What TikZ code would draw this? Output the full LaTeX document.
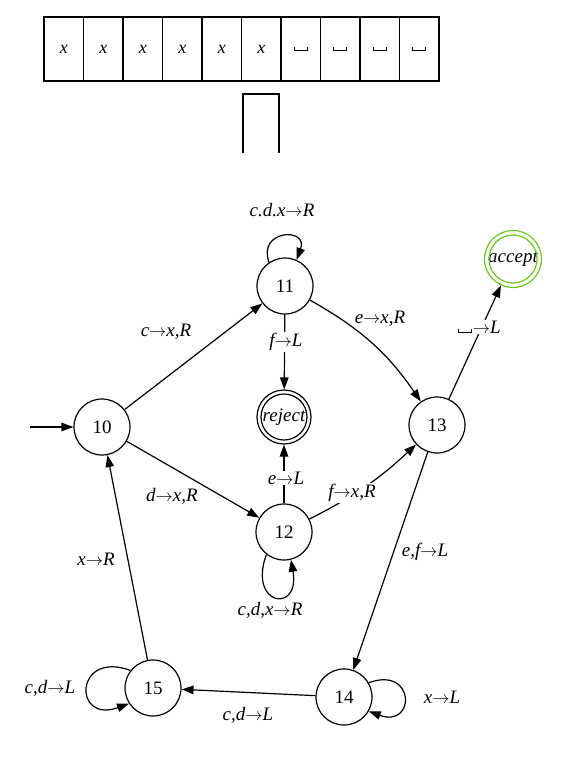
\documentclass[tikz,border=0pt]{standalone}
\usepackage{fontspec}
\setmainfont{Liberation Serif}
\usetikzlibrary{arrows.meta}
\newcommand{\blanksym}{\kern1pt\rule{0.8pt}{4pt}\rule{12pt}{0.8pt}\rule{0.8pt}{4pt}\kern1pt}
\definecolor{accgreen}{RGB}{110,200,30}
\begin{document}
\begin{tikzpicture}[x=1pt,y=1pt,
  every node/.style={font=\fontsize{19}{22}\selectfont},
  state/.style={circle,draw,line width=1.2pt,minimum size=56pt,inner sep=0pt},
  cell/.style={rectangle,draw,line width=1.8pt,minimum width=39.5pt,minimum height=64pt,inner sep=0pt,font=\fontsize{18}{20}\selectfont\itshape},
  edge/.style={line width=1.2pt,-{Triangle[length=12pt,width=8.5pt]}},
  lab/.style={font=\fontsize{19}{22}\selectfont\itshape,inner sep=1pt},
  wlab/.style={lab,fill=white}]
\useasboundingbox (0,0) rectangle (582,-764);
% tape
\foreach \i/\s in {1/x,2/x,3/x,4/x,5/x,6/x,7/\blanksym,8/\blanksym,9/\blanksym,10/\blanksym}{
  \node[cell] (t\i) at ({44+39.5*(\i-0.5)},-49) {\s};
}
% head
\draw[line width=1.8pt] (243,-153) -- (243,-94) -- (279,-94) -- (279,-153);
% states
\node[state] (n10) at (102,-427) {10};
\node[state] (n11) at (285,-286) {11};
\node[state,minimum size=54pt] (rej) at (284,-417) {\itshape reject};
\draw[line width=1.2pt] (rej.center) circle (23);
\node[state] (n13) at (437,-425) {13};
\node[state] (n12) at (284,-532) {12};
\node[state,draw=accgreen,minimum size=57pt] (acc) at (513,-259) {\itshape accept};
\draw[line width=1.2pt,accgreen] (acc.center) circle (24);
\node[state] (n14) at (344,-697) {14};
\node[state] (n15) at (153,-688) {15};
\coordinate (start) at (30,-427);
% edges
\draw[edge] (start) -- (n10);
\draw[edge] (n10) -- (n11);
\draw[edge] (n10) -- (n12);
\draw[edge] (n11) -- (rej);
\draw[edge] (n12) -- (rej);
\draw[edge] (n11) to[bend left=13] (n13);
\draw[edge] (n12) to[bend right=8] (n13);
\draw[edge] (n13) -- (acc);
\draw[edge] (n13) -- (n14);
\draw[edge] (n14) -- (n15);
\draw[edge] (n15) -- (n10);
% loops
\draw[edge] (n11.124) .. controls +(110:35) and +(70:35) .. (n11.66);
\draw[edge] (n12.-128) .. controls +(-110:55) and +(-80:55) .. (n12.-76);
\draw[edge] (n15.142) .. controls +(160:60) and +(200:60) .. (n15.213);
\draw[edge] (n14.30) .. controls +(20:50) and +(-20:50) .. (n14.-30);
% labels
\node[lab] (l1) at (282,-210) {c.d.x$\rightarrow$R};
\node[lab] (l2) at (166,-332) {c$\rightarrow$x,R};
\node[lab] (l3) at (172,-496) {d$\rightarrow$x,R};
\node[wlab] (l4) at (286,-342) {f$\rightarrow$L};
\node[lab] (l5) at (380,-319) {e$\rightarrow$x,R};
\node[wlab] (l6) at (479,-327) {\blanksym$\rightarrow$L};
\node[wlab] (l7) at (286,-478) {e$\rightarrow$L};
\node[wlab] (l8) at (352,-493) {f$\rightarrow$x,R};
\node[lab] (l9) at (425,-552) {e,f$\rightarrow$L};
\node[lab] (l10) at (96,-559) {x$\rightarrow$R};
\node[lab] (l11) at (270,-610) {c,d,x$\rightarrow$R};
\node[lab] (l12) at (50,-688) {c,d$\rightarrow$L};
\node[lab] (l13) at (442,-697) {x$\rightarrow$L};
\node[lab] (l14) at (248,-715) {c,d$\rightarrow$L};
\end{tikzpicture}
\end{document}
